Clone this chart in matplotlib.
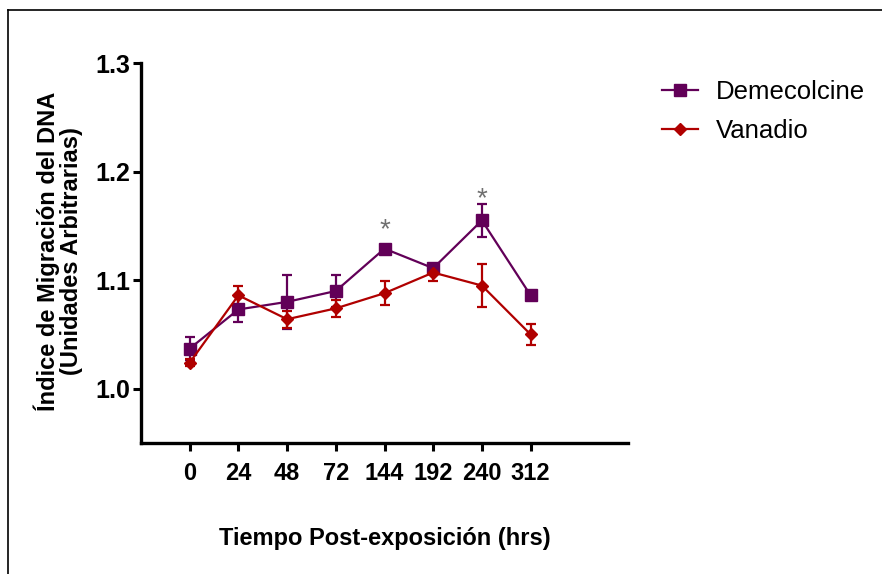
import numpy as np
import matplotlib
matplotlib.use("Agg")
import matplotlib.pyplot as plt
from matplotlib.lines import Line2D

# datos
tiempos = ["0", "24", "48", "72", "144", "192", "240", "312"]
deme_media = [1.037, 1.073, 1.080, 1.090, 1.129, 1.111, 1.155, 1.086]
deme_err = [0.011, 0.012, 0.025, 0.015, 0.003, 0.004, 0.015, 0.004]
vana_media = [1.024, 1.086, 1.064, 1.074, 1.088, 1.107, 1.095, 1.050]
vana_err = [0.003, 0.009, 0.008, 0.0075, 0.011, 0.008, 0.020, 0.0095]
sig_idx = [4, 6]
sig_y = [1.146, 1.175]

plt.rcParams['font.family'] = ['Liberation Sans', 'DejaVu Sans']

fig = plt.figure(figsize=(8.82, 5.74), dpi=100)
ax = fig.add_axes([141 / 882, 1 - 443 / 574, (628 - 141) / 882, (443 - 63) / 574])

x = np.arange(len(tiempos))
c_deme = '#620058'
c_vana = '#b00000'

ax.errorbar(x, deme_media, yerr=deme_err, color=c_deme, marker='s', markersize=8,
            lw=1.6, capsize=3.8, capthick=1.6, elinewidth=1.6)
ax.errorbar(x, vana_media, yerr=vana_err, color=c_vana, marker='D', markersize=6,
            lw=1.6, capsize=3.8, capthick=1.6, elinewidth=1.6)

for i, yv in zip(sig_idx, sig_y):
    ax.text(x[i], yv, '*', color='#707070', fontsize=20, ha='center', va='center')

ax.set_xlim(-1, 9)
ax.set_ylim(0.95, 1.3)
ax.set_xticks(x)
ax.set_xticklabels(tiempos)
ax.set_yticks([1.0, 1.1, 1.2, 1.3])
ax.set_yticklabels(['1.0', '1.1', '1.2', '1.3'])

for s in ['top', 'right']:
    ax.spines[s].set_visible(False)
for s in ['left', 'bottom']:
    ax.spines[s].set_linewidth(2.4)

ax.tick_params(axis='both', direction='out', length=6, width=2.2, colors='black')
ax.tick_params(axis='x', labelsize=17, pad=8)
ax.tick_params(axis='y', labelsize=18, pad=2)
for lab in ax.get_xticklabels() + ax.get_yticklabels():
    lab.set_fontweight('bold')

ax.set_xlabel('Tiempo Post-exposición (hrs)', fontsize=17, fontweight='bold', labelpad=30)
ax.set_ylabel('Índice de Migración del DNA\n(Unidades Arbitrarias)', fontsize=17,
              fontweight='bold', linespacing=0.95)
ax.yaxis.set_label_coords(-0.12, 0.505)

handles = [Line2D([], [], color=c_deme, marker='s', markersize=8, lw=1.6),
           Line2D([], [], color=c_vana, marker='D', markersize=6, lw=1.6)]
ax.legend(handles, ['Demecolcine', 'Vanadio'], loc='upper left',
          bbox_to_anchor=((662 - 141) / 487, (443 - 80) / 380), frameon=False,
          fontsize=18.5, borderaxespad=0, borderpad=0,
          handlelength=1.4, handletextpad=0.7, labelspacing=0.6)

# marco de la imagen
fig.add_artist(Line2D([8 / 882, 1], [1 - 10 / 574, 1 - 10 / 574], color='black', lw=1.2))
fig.add_artist(Line2D([8 / 882, 8 / 882], [0, 1 - 10 / 574], color='black', lw=1.2))

fig.savefig('out.png', dpi=100)
